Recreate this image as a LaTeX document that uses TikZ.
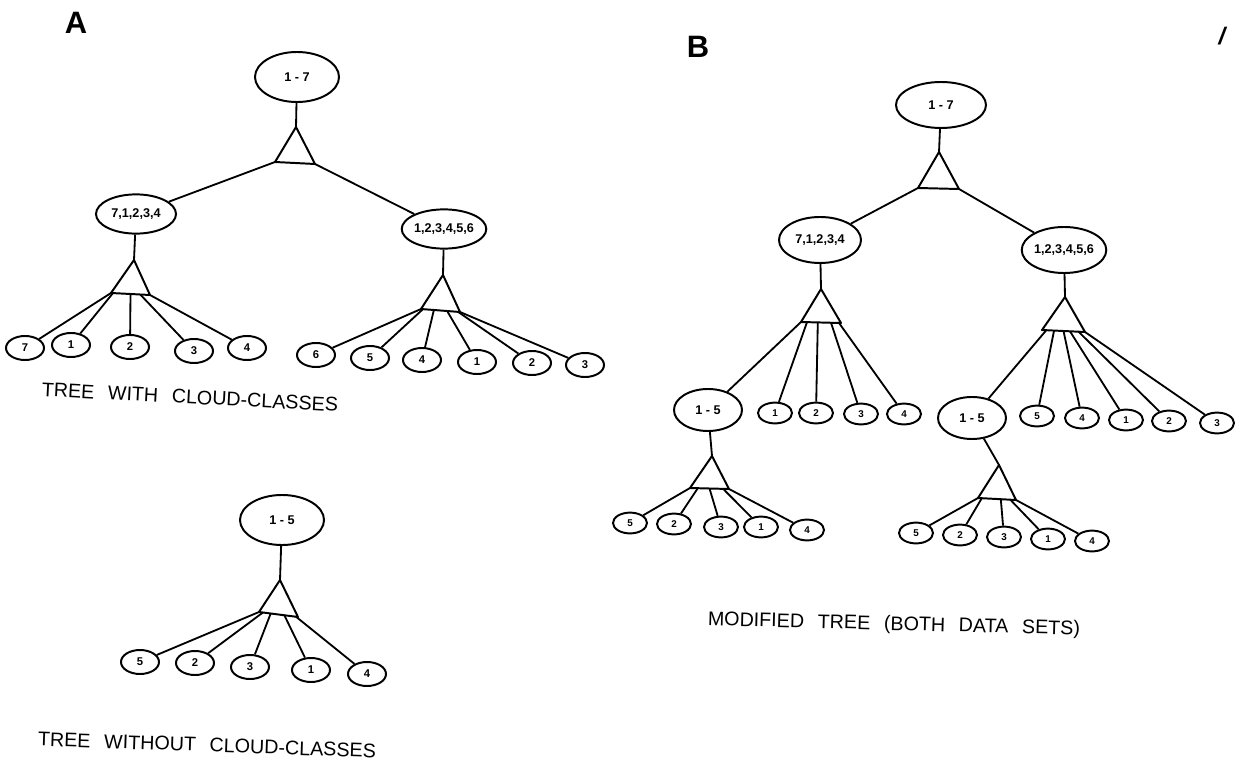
\documentclass[tikz,border=0pt]{standalone}
\usepackage{fontspec}
\setmainfont{Liberation Sans}
\newfontfamily\capfont[WordSpace=2.5]{Liberation Sans}
\usetikzlibrary{calc,positioning,shapes.geometric}

\begin{document}
\begin{tikzpicture}[
  x=0.025cm, y=-0.025cm,
  cls/.style={ellipse, draw, line width=1.4pt, inner sep=0pt,
    font=\fontsize{9}{9}\selectfont\bfseries},
  bigcls/.style={cls, minimum width=2.1cm, minimum height=1.25cm},
  midcls/.style={cls, minimum width=2cm, minimum height=0.98cm},
  subcls/.style={cls, minimum width=1.7cm, minimum height=1.05cm},
  leafa/.style={cls, minimum width=0.95cm, minimum height=0.6cm,
    font=\fontsize{8}{8}\selectfont\bfseries},
  leafb/.style={cls, minimum width=0.85cm, minimum height=0.52cm,
    font=\fontsize{7}{7}\selectfont\bfseries},
  tri/.style={line width=1.4pt, line join=round},
  link/.style={line width=1.3pt},
  caption/.style={font=\capfont\fontsize{14}{14}\selectfont},
  panel/.style={font=\fontsize{22}{22}\selectfont\bfseries},
]
\useasboundingbox (0,0) rectangle (1240,760);

\node[panel] (labA) at (76,23) {A};
\node[panel] (labB) at (698,47) {B};
\node[font=\fontsize{17}{17}\selectfont\bfseries\itshape] (mark) at (1222,36) {/};

% A: tree with cloud-classes
\node[bigcls] (rootA) at (297,77) {1 - 7};
\coordinate (tA) at (296,127);
\coordinate (tAl) at (275,162);
\coordinate (tAr) at (315,164);
\draw[tri] (tA) -- (tAl) -- (tAr) -- cycle;
\draw[link] (rootA) -- (tA);
\node[midcls] (lA) at (136,214) {7,1,2,3,4};
\node[midcls] (rA) at (444,229) {1,2,3,4,5,6};
\draw[link] (tAl) -- (lA);
\draw[link] (tAr) -- (rA);

\coordinate (tAL) at (134,260);
\coordinate (tALl) at (111,293);
\coordinate (tALr) at (150,295);
\draw[tri] (tAL) -- (tALl) -- (tALr) -- cycle;
\draw[link] (lA) -- (tAL);
\foreach \nm/\lbl/\x/\y/\f in {aL7/7/25/348/0, aL1/1/71/345/0.05, aL2/2/130/347/0.5,
    aL3/3/194/351/0.75, aL4/4/247/348/1} {
  \node[leafa] (\nm) at (\x,\y) {\lbl};
  \draw[link] ($(tALl)!\f!(tALr)$) -- (\nm);
}

\coordinate (tAR) at (443,275);
\coordinate (tARl) at (421,309);
\coordinate (tARr) at (460,312);
\draw[tri] (tAR) -- (tARl) -- (tARr) -- cycle;
\draw[link] (rA) -- (tAR);
\foreach \nm/\lbl/\x/\y/\f in {aR6/6/316/355/0, aR5/5/370/358/0.05, aR4/4/422/360/0.33,
    aR1/1/477/362/0.67, aR2/2/532/363/0.95, aR3/3/585/365/1} {
  \node[leafa] (\nm) at (\x,\y) {\lbl};
  \draw[link] ($(tARl)!\f!(tARr)$) -- (\nm);
}
\node[caption, rotate=-3] (capA) at (190,397) {TREE WITH CLOUD-CLASSES};

% A: tree without cloud-classes
\node[bigcls] (rootC) at (282,520) {1 - 5};
\coordinate (tC) at (280,580);
\coordinate (tCl) at (259,612);
\coordinate (tCr) at (298,617);
\draw[tri] (tC) -- (tCl) -- (tCr) -- cycle;
\draw[link] (rootC) -- (tC);
\foreach \nm/\lbl/\x/\y/\f in {c5/5/140/662/0, c2/2/195/663/0.1, c3/3/250/667/0.3,
    c1/1/311/670/0.65, c4/4/367/674/0.95} {
  \node[leafa] (\nm) at (\x,\y) {\lbl};
  \draw[link] ($(tCl)!\f!(tCr)$) -- (\nm);
}
\node[caption, rotate=-2] (capC) at (207,745) {TREE WITHOUT CLOUD-CLASSES};

% B: modified tree
\node[bigcls, minimum width=2.25cm, minimum height=1.15cm] (rootB) at (941,105) {1 - 7};
\coordinate (tB) at (939,152);
\coordinate (tBl) at (918,188);
\coordinate (tBr) at (959,189);
\draw[tri] (tB) -- (tBl) -- (tBr) -- cycle;
\draw[link] (rootB) -- (tB);
\node[midcls, minimum width=2.05cm, minimum height=1.15cm] (lB) at (820,240) {7,1,2,3,4};
\node[midcls, minimum width=2.1cm, minimum height=1.15cm] (rB) at (1064,250) {1,2,3,4,5,6};
\draw[link] (tBl) -- (lB);
\draw[link] (tBr) -- (rB);

\coordinate (tBL) at (821,289);
\coordinate (tBLl) at (801,322);
\coordinate (tBLr) at (841,323);
\draw[tri] (tBL) -- (tBLl) -- (tBLr) -- cycle;
\draw[link] (lB) -- (tBL);
\node[subcls] (bL15) at (708,410) {1 - 5};
\draw[link] (tBLl) -- (bL15);
\foreach \nm/\lbl/\x/\y/\f in {bL1/1/775/413/0.15, bL2/2/816/413/0.42,
    bL3/3/861/414/0.75, bL4/4/904/414/0.95} {
  \node[leafb] (\nm) at (\x,\y) {\lbl};
  \draw[link] ($(tBLl)!\f!(tBLr)$) -- (\nm);
}

\coordinate (tBR) at (1065,297);
\coordinate (tBRl) at (1042,330);
\coordinate (tBRr) at (1085,332);
\draw[tri] (tBR) -- (tBRl) -- (tBRr) -- cycle;
\draw[link] (rB) -- (tBR);
\node[subcls] (bR15) at (972,418) {1 - 5};
\draw[link] ($(tBRl)!0.1!(tBRr)$) -- (bR15);
\foreach \nm/\lbl/\x/\y/\f in {bR5/5/1037/416/0.28, bR4/4/1082/418/0.5, bR1/1/1126/420/0.65,
    bR2/2/1169/421/0.85, bR3/3/1217/423/1} {
  \node[leafb] (\nm) at (\x,\y) {\lbl};
  \draw[link] ($(tBRl)!\f!(tBRr)$) -- (\nm);
}

\coordinate (tBLL) at (712,456);
\coordinate (tBLLl) at (690,488);
\coordinate (tBLLr) at (729,489);
\draw[tri] (tBLL) -- (tBLLl) -- (tBLLr) -- cycle;
\draw[link] (bL15) -- (tBLL);
\foreach \nm/\lbl/\x/\y/\f in {bLL5/5/630/523/0, bLL2/2/674/524/0.2, bLL3/3/721/527/0.5,
    bLL1/1/761/527/0.85, bLL4/4/807/530/1} {
  \node[leafb] (\nm) at (\x,\y) {\lbl};
  \draw[link] ($(tBLLl)!\f!(tBLLr)$) -- (\nm);
}

\coordinate (tBRL) at (999,465);
\coordinate (tBRLl) at (978,498);
\coordinate (tBRLr) at (1016,500);
\draw[tri] (tBRL) -- (tBRLl) -- (tBRLr) -- cycle;
\draw[link] (bR15) -- (tBRL);
\foreach \nm/\lbl/\x/\y/\f in {bRL5/5/916/533/0, bRL2/2/960/535/0.1, bRL3/3/1004/537/0.6,
    bRL1/1/1048/539/0.85, bRL4/4/1092/541/1} {
  \node[leafb] (\nm) at (\x,\y) {\lbl};
  \draw[link] ($(tBRLl)!\f!(tBRLr)$) -- (\nm);
}
\node[caption, rotate=-1.5] (capB) at (894,625) {MODIFIED TREE (BOTH DATA SETS)};
\end{tikzpicture}
\end{document}
